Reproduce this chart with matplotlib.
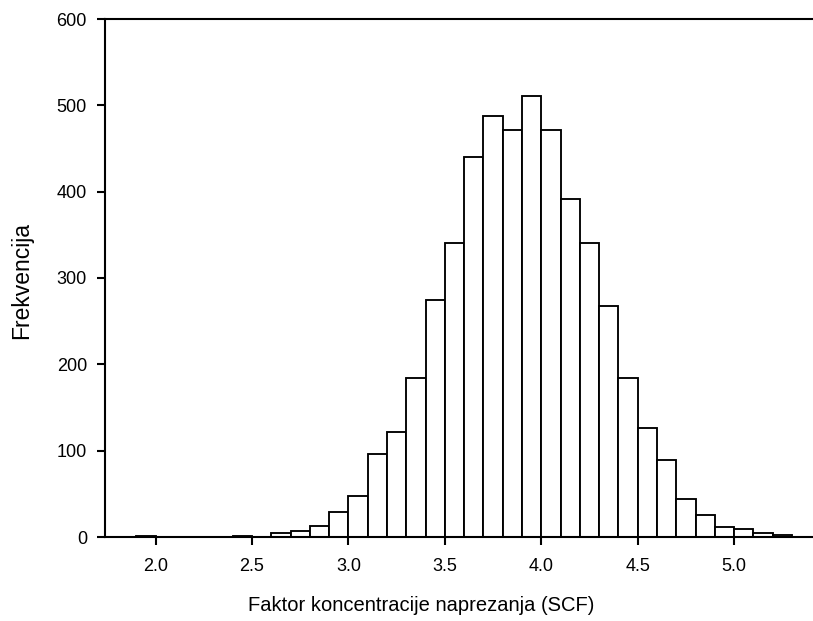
import matplotlib
matplotlib.use("Agg")
import matplotlib.pyplot as plt

plt.rcParams['font.family'] = ['Liberation Sans', 'DejaVu Sans']

bin_starts = [1.9, 2.0, 2.1, 2.2, 2.3, 2.4, 2.5, 2.6, 2.7, 2.8, 2.9,
              3.0, 3.1, 3.2, 3.3, 3.4, 3.5, 3.6, 3.7, 3.8, 3.9,
              4.0, 4.1, 4.2, 4.3, 4.4, 4.5, 4.6, 4.7, 4.8, 4.9,
              5.0, 5.1, 5.2]
counts = [1, 0, 0, 0, 0, 1, 0, 5, 7, 13, 29,
          48, 96, 122, 184, 274, 340, 440, 488, 471, 511,
          472, 391, 341, 268, 184, 126, 89, 44, 26, 12,
          9, 5, 2]
bin_width = 0.1
x_ticks = [2.0, 2.5, 3.0, 3.5, 4.0, 4.5, 5.0]
y_ticks = [0, 100, 200, 300, 400, 500, 600]

fig = plt.figure(figsize=(8.13, 6.21), dpi=100)
ax = fig.add_axes([105 / 813, 84 / 621, 1 - 105 / 813 + 0.002, 518 / 621])

ax.bar(bin_starts, counts, width=bin_width, align='edge',
       facecolor='white', edgecolor='black', linewidth=1.35)

ax.set_xlim(1.7375, 5.417)
ax.set_ylim(0, 600)
ax.set_xticks(x_ticks)
ax.set_xticklabels([f"{t:.1f}" for t in x_ticks])
ax.set_yticks(y_ticks)

for s in ['left', 'bottom', 'top']:
    ax.spines[s].set_linewidth(1.5)
ax.spines['right'].set_visible(False)

ax.tick_params(axis='both', direction='out', length=6, width=1.5,
               labelsize=13, colors='black')
ax.tick_params(axis='x', pad=9)
ax.tick_params(axis='y', pad=7)

ax.set_xlabel('Faktor koncentracije naprezanja (SCF)', fontsize=14.5)
ax.xaxis.set_label_coords(0.445, -0.113)
ax.set_ylabel('Frekvencija', fontsize=16.5)
ax.yaxis.set_label_coords(-0.1015, 0.496)

fig.savefig('out.png', dpi=100)
